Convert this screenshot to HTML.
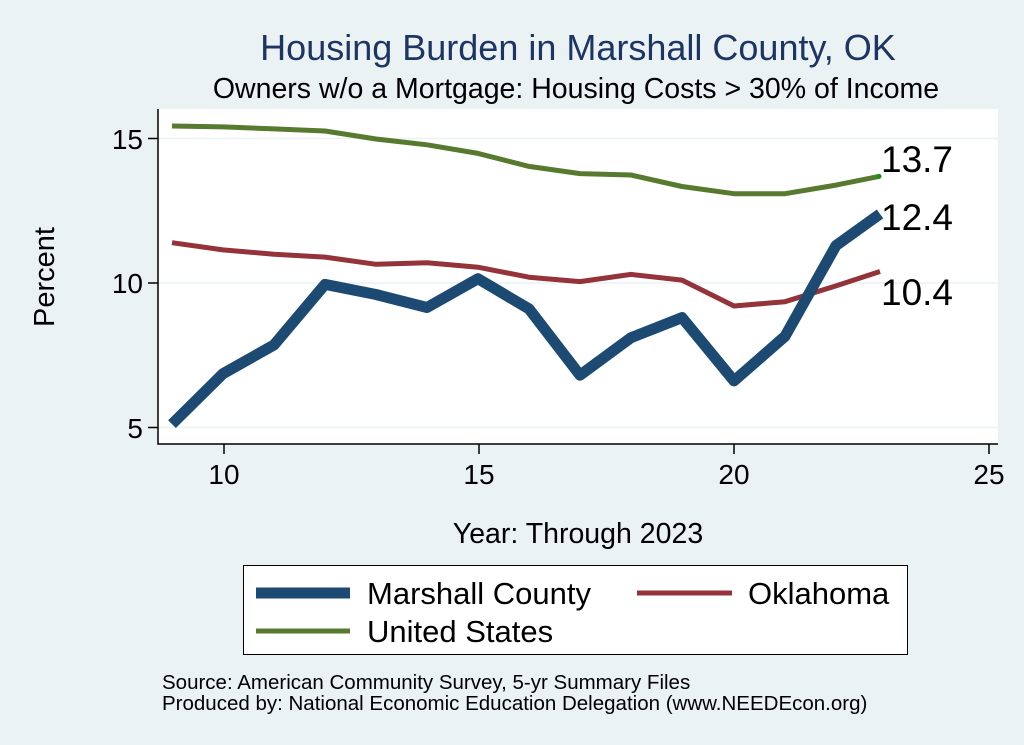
<!DOCTYPE html>
<html><head><style>
body{margin:0;background:#eaf2f3;}
svg{display:block;font-family:"Liberation Sans",sans-serif;}
</style></head><body>
<svg width="1024" height="745" viewBox="0 0 1024 745">
<rect width="1024" height="745" fill="#eaf2f3"/>
<rect x="158" y="109" width="840" height="335" fill="#fff"/>
<g stroke="#eaf2f3" stroke-width="1.5">
<line x1="158" x2="998" y1="138.5" y2="138.5"/>
<line x1="158" x2="998" y1="283" y2="283"/>
<line x1="158" x2="998" y1="427.5" y2="427.5"/>
</g>
<g stroke="#000" stroke-width="1.5" fill="none">
<polyline points="158,109 158,444 998,444"/>
<line x1="148" x2="158" y1="138.5" y2="138.5"/>
<line x1="148" x2="158" y1="283" y2="283"/>
<line x1="148" x2="158" y1="427.5" y2="427.5"/>
<line x1="224" x2="224" y1="444" y2="454"/>
<line x1="479" x2="479" y1="444" y2="454"/>
<line x1="734" x2="734" y1="444" y2="454"/>
<line x1="989" x2="989" y1="444" y2="454"/>
</g>
<g font-size="28" text-anchor="end" fill="#000">
<text x="143" y="149">15</text><text x="143" y="293">10</text><text x="143" y="438">5</text>
</g>
<g font-size="28" text-anchor="middle" fill="#000">
<text x="224" y="484">10</text><text x="479" y="484">15</text><text x="734" y="484">20</text><text x="989" y="484">25</text>
</g>
<text x="54" y="277" font-size="29" text-anchor="middle" transform="rotate(-90 54 277)">Percent</text>
<text x="578" y="543" font-size="28.5" text-anchor="middle">Year: Through 2023</text>
<text x="578" y="60" font-size="36" text-anchor="middle" fill="#1e3563">Housing Burden in Marshall County, OK</text>
<text x="576" y="98" font-size="28.5" text-anchor="middle">Owners w/o a Mortgage: Housing Costs &gt; 30% of Income</text>
<g fill="none" stroke-linejoin="round">
<polyline stroke="#587a2e" stroke-width="5" points="172,126 223,126.9 274,128.9 325,131 376,139 427,144.8 478,153.4 529,166.4 580,173.6 631,175 682,186.5 734,193.7 785,193.7 836,185.1 879,176.4"/>
<polyline stroke="#943339" stroke-width="5" points="172,242.7 223,249.9 274,254.2 325,257.1 376,264.3 427,262.8 478,267.2 529,277.2 580,281.6 631,274.4 682,280.1 734,306 785,301.7 836,285.9 880,271.5"/>
<polyline stroke="#1c4a72" stroke-width="11" points="172,424.1 223,373.7 274,344.9 325,284.4 376,294.5 427,307.5 478,278.7 529,308.9 580,375.2 631,337.7 682,317.6 734,380.9 785,336.3 836,245.6 880,213.9"/>
</g>
<circle cx="879" cy="176.4" r="2.5" fill="#1a8a1a"/>
<g font-size="37" fill="#000">
<text x="881" y="172">13.7</text><text x="881" y="230">12.4</text><text x="881" y="305">10.4</text>
</g>
<rect x="243.5" y="565.5" width="664" height="89" fill="#fff" stroke="#000" stroke-width="1"/>
<line x1="256" x2="350" y1="593" y2="593" stroke="#1c4a72" stroke-width="11"/>
<text x="367" y="604" font-size="31">Marshall County</text>
<line x1="637" x2="732" y1="593" y2="593" stroke="#943339" stroke-width="5"/>
<text x="748" y="604" font-size="31">Oklahoma</text>
<line x1="256" x2="350" y1="631" y2="631" stroke="#587a2e" stroke-width="5"/>
<text x="367" y="642" font-size="31">United States</text>
<text x="162" y="689" font-size="20.5">Source: American Community Survey, 5-yr Summary Files</text>
<text x="162" y="710" font-size="20.5">Produced by: National Economic Education Delegation (www.NEEDEcon.org)</text>
</svg>
</body></html>
